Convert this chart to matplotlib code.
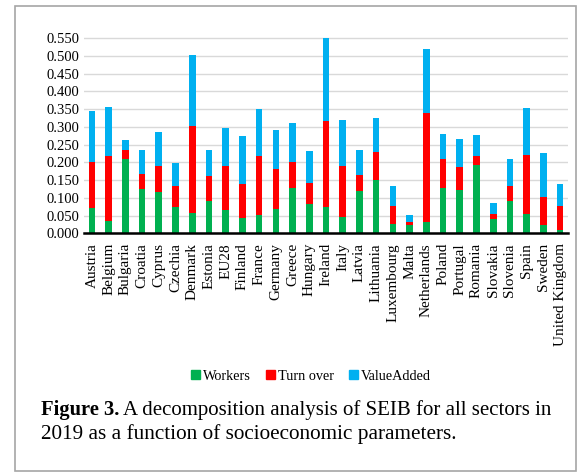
import matplotlib
matplotlib.use('Agg')
import matplotlib.pyplot as plt
from matplotlib.patches import Patch, Rectangle
import numpy as np

countries = ['Austria', 'Belgium', 'Bulgaria', 'Croatia', 'Cyprus', 'Czechia', 'Denmark',
             'Estonia', 'EU28', 'Finland', 'France', 'Germany', 'Greece', 'Hungary',
             'Ireland', 'Italy', 'Latvia', 'Lithuania', 'Luxembourg', 'Malta',
             'Netherlands', 'Poland', 'Portugal', 'Romania', 'Slovakia', 'Slovenia',
             'Spain', 'Sweden', 'United Kingdom']

# stacked contributions to SEIB, 2019
workers = [0.071, 0.035, 0.210, 0.125, 0.116, 0.075, 0.056, 0.090, 0.066, 0.044,
           0.052, 0.069, 0.127, 0.082, 0.075, 0.045, 0.119, 0.150, 0.026, 0.024,
           0.032, 0.127, 0.122, 0.192, 0.039, 0.090, 0.055, 0.024, 0.009]
turnover = [0.130, 0.184, 0.026, 0.042, 0.075, 0.057, 0.247, 0.072, 0.123, 0.094,
            0.167, 0.113, 0.075, 0.061, 0.243, 0.146, 0.045, 0.080, 0.052, 0.009,
            0.307, 0.083, 0.066, 0.026, 0.016, 0.042, 0.166, 0.078, 0.069]
value_added = [0.144, 0.137, 0.027, 0.068, 0.096, 0.065, 0.201, 0.074, 0.109, 0.135,
               0.131, 0.108, 0.110, 0.089, 0.232, 0.129, 0.072, 0.094, 0.055, 0.019,
               0.180, 0.069, 0.077, 0.058, 0.031, 0.077, 0.133, 0.124, 0.061]

plt.rcParams['font.family'] = ['Liberation Serif', 'DejaVu Serif']

W, H = 582, 474
fig = plt.figure(figsize=(W / 100, H / 100), dpi=100)

# axes box in pixel terms
x0, x1 = 83.6, 568.4
y_zero, y_top = 233.3, 36.5
ax = fig.add_axes([x0 / W, 1 - y_zero / H, (x1 - x0) / W, (y_zero - y_top) / H])

x = np.arange(len(countries))
w = 0.4
green, red, blue = '#00B050', '#FF0000', '#00B0F0'
workers = np.array(workers)
turnover = np.array(turnover)
value_added = np.array(value_added)
ax.bar(x, workers, w, color=green, zorder=3, clip_on=False)
ax.bar(x, turnover, w, bottom=workers, color=red, zorder=3, clip_on=False)
ax.bar(x, value_added, w, bottom=workers + turnover, color=blue, zorder=3, clip_on=False)

ax.set_xlim(-0.5, len(countries) - 0.5)
ax.set_ylim(0, 0.555)
ticks = np.arange(0, 0.551, 0.05)
ax.set_yticks(ticks)
ax.set_yticklabels([f'{v:.3f}' for v in ticks], fontsize=10.5)
ax.set_xticks(x)
ax.set_xticklabels(countries, rotation=90, fontsize=11)
ax.tick_params(axis='both', length=0)
ax.tick_params(axis='y', pad=3)
ax.tick_params(axis='x', pad=7)
ax.grid(axis='y', color='#d9d9d9', linewidth=1, zorder=0)
for s in ['top', 'right', 'left']:
    ax.spines[s].set_visible(False)
ax.spines['bottom'].set_linewidth(1.8)
ax.spines['bottom'].set_zorder(4)

handles = [Patch(color=green, label='Workers'),
           Patch(color=red, label='Turn over'),
           Patch(color=blue, label='ValueAdded')]
fig.legend(handles=handles, loc='center', bbox_to_anchor=(311 / W, 1 - 376 / H),
           ncol=3, frameon=False, fontsize=10.3, handlelength=0.6, handleheight=0.6,
           handletextpad=0.2, columnspacing=1.1)

# caption: bold label followed by plain text
cap_x = 41 / W
lbl = fig.text(cap_x, 1 - 410 / H, 'Figure 3.', fontsize=14.8, fontweight='bold',
               va='center', ha='left')
fig.canvas.draw()
bb = lbl.get_window_extent(renderer=fig.canvas.get_renderer())
fig.text((bb.x1 + 3.5) / W, 1 - 410 / H, 'A decomposition analysis of SEIB for all sectors in',
         fontsize=15.0, va='center', ha='left')
fig.text(cap_x, 1 - 434 / H, '2019 as a function of socioeconomic parameters.',
         fontsize=15.3, va='center', ha='left')

fig.patches.append(Rectangle((14.5 / W, 1 - 471 / H), (575.7 - 14.5) / W, (471 - 5.5) / H,
                             transform=fig.transFigure, fill=False,
                             edgecolor='#a6a6a6', linewidth=1.2))

fig.savefig('out.png', dpi=100)
